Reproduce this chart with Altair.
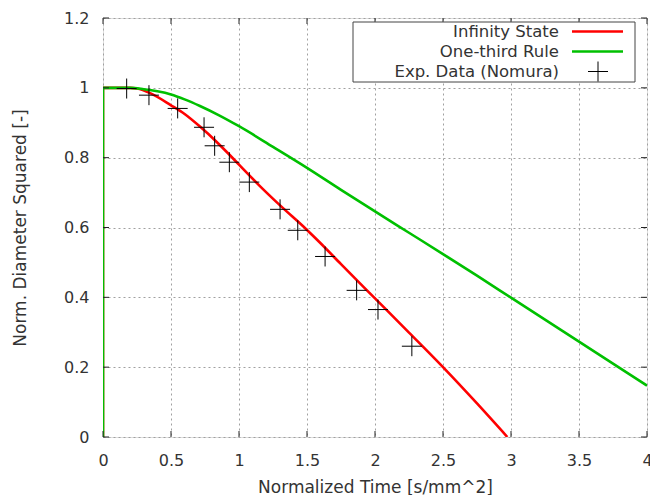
import altair as alt
import pandas as pd

# ---------------- data ----------------
# initial jump at t = 0 (d^2 from 0 to 1), drawn by both model curves
start_t = [0.0, 0.0]
start_d = [0.0, 1.0]

inf_t = [0.0, 0.1, 0.2, 0.25, 0.35, 0.5, 0.6, 0.713, 0.836, 0.921, 1.0, 1.15, 1.3,
         1.5, 1.6, 1.75, 2.0, 2.25, 2.5, 2.75, 2.973]
inf_d = [1.0, 1.0, 1.0, 0.998, 0.984, 0.950, 0.925, 0.889, 0.845, 0.812, 0.780, 0.720, 0.664,
         0.593, 0.555, 0.495, 0.397, 0.299, 0.200, 0.096, 0.0]

third_t = [0.0, 0.1, 0.2, 0.3, 0.4, 0.5, 0.6, 0.713, 0.85, 1.0, 1.25, 1.5, 1.75, 2.0,
           2.25, 2.5, 2.75, 3.0, 3.25, 3.5, 3.75, 4.0]
third_d = [1.0, 1.0, 1.0, 0.996, 0.99, 0.981, 0.967, 0.948, 0.922, 0.89, 0.831, 0.771,
           0.708, 0.646, 0.585, 0.524, 0.462, 0.399, 0.336, 0.273, 0.21, 0.147]

exp_t = [0.174, 0.338, 0.549, 0.743, 0.821, 0.929, 1.076, 1.302, 1.432, 1.633, 1.865, 2.022, 2.271]
exp_d = [0.998, 0.979, 0.941, 0.887, 0.834, 0.787, 0.730, 0.652, 0.592, 0.517, 0.420, 0.365, 0.260]

x_ticks = [0, 0.5, 1, 1.5, 2, 2.5, 3, 3.5, 4]
y_ticks = [0, 0.2, 0.4, 0.6, 0.8, 1.0, 1.2]

legend_labels = ["Infinity State", "One-third Rule", "Exp. Data (Nomura)"]
colors = ["#ff0000", "#00c000", "#000000"]

# ---------------- layout ----------------
W, H = 544, 419
FONT = "DejaVu Sans"
TXT = "#333333"
CROSS = "M-1,0L1,0M0,-1L0,1"
LW = 2.6

df_start = pd.DataFrame({"t": start_t, "d": start_d, "i": range(len(start_t))})
df_inf = pd.DataFrame({"t": inf_t, "d": inf_d})
df_third = pd.DataFrame({"t": third_t, "d": third_d})
df_exp = pd.DataFrame({"t": exp_t, "d": exp_d})
df_xt = pd.DataFrame({"t": x_ticks})
df_yt = pd.DataFrame({"d": y_ticks})

xs = alt.Scale(domain=[0, 4], nice=False, zero=False)
ys = alt.Scale(domain=[0, 1.2], nice=False, zero=False)

x_axis = alt.Axis(title="Normalized Time [s/mm^2]", values=x_ticks, format=".1~f",
                  grid=True, gridDash=[2, 3], gridColor="#a0a0a0", gridWidth=1,
                  ticks=False, tickSize=0, domain=False, labelFlush=False, labelOverlap=False,
                  labelPadding=15, labelFont=FONT, labelFontSize=16, labelColor=TXT,
                  titleFont=FONT, titleFontSize=17, titleFontWeight="normal", titleColor=TXT,
                  titleY=50, titleBaseline="middle")
y_axis = alt.Axis(title="Norm. Diameter Squared [-]", values=y_ticks, format=".1~f",
                  grid=True, gridDash=[2, 3], gridColor="#a0a0a0", gridWidth=1,
                  ticks=False, tickSize=0, domain=False, labelFlush=False, labelOverlap=False,
                  labelPadding=14, labelFont=FONT, labelFontSize=16, labelColor=TXT,
                  titleFont=FONT, titleFontSize=17, titleFontWeight="normal", titleColor=TXT,
                  titleX=-83, titleY=H / 2, titleBaseline="middle", titleAngle=270)

X = alt.X("t:Q", scale=xs, axis=x_axis)
Y = alt.Y("d:Q", scale=ys, axis=y_axis)

red = alt.Chart(df_inf).mark_line(color=colors[0], strokeWidth=LW, clip=True,
                                  interpolate="monotone").encode(x=X, y=Y)
red0 = alt.Chart(df_start).mark_line(color=colors[0], strokeWidth=LW, clip=True).encode(
    x=X, y=Y, order="i:Q")
green = alt.Chart(df_third).mark_line(color=colors[1], strokeWidth=LW, clip=True,
                                      interpolate="monotone").encode(x=X, y=Y)
green0 = alt.Chart(df_start).mark_line(color=colors[1], strokeWidth=LW, clip=True).encode(
    x=X, y=Y, order="i:Q")
pts = alt.Chart(df_exp).mark_point(shape=CROSS, size=400, filled=False, stroke="#000000",
                                   strokeWidth=1, opacity=1).encode(x=X, y=Y)

TL = 6
tick_color = "#222222"
xt_bottom = alt.Chart(df_xt).mark_rule(color=tick_color).encode(
    x=X, y=alt.value(H), y2=alt.value(H - TL))
xt_top = alt.Chart(df_xt).mark_rule(color=tick_color).encode(
    x=X, y=alt.value(0), y2=alt.value(TL))
yt_left = alt.Chart(df_yt).mark_rule(color=tick_color).encode(
    y=Y, x=alt.value(0), x2=alt.value(TL))
yt_right = alt.Chart(df_yt).mark_rule(color=tick_color).encode(
    y=Y, x=alt.value(W), x2=alt.value(W - TL))

# ---------------- legend (gnuplot style key) ----------------
lg = pd.DataFrame({"label": legend_labels})
box = alt.Chart(pd.DataFrame({"a": [0]})).mark_rect(fill="white", stroke="#444444",
                                                   strokeWidth=1).encode(
    x=alt.value(250), x2=alt.value(532), y=alt.value(4), y2=alt.value(64))
row_y = [13.5, 33.5, 53.5]
legend_layers = [box]
for k in range(3):
    legend_layers.append(
        alt.Chart(lg.iloc[[k]]).mark_text(align="right", baseline="middle", font=FONT,
                                          fontSize=16.5, color=TXT).encode(
            text="label:N", x=alt.value(456), y=alt.value(row_y[k])))
for k in range(2):
    legend_layers.append(
        alt.Chart(lg.iloc[[k]]).mark_rule(color=colors[k], strokeWidth=LW).encode(
            x=alt.value(469), x2=alt.value(520), y=alt.value(row_y[k])))
legend_layers.append(
    alt.Chart(lg.iloc[[2]]).mark_point(shape=CROSS, size=400, filled=False, stroke="#000000",
                                       strokeWidth=1, opacity=1).encode(
        x=alt.value(495), y=alt.value(row_y[2])))

chart = alt.layer(red0, red, green0, green, pts, xt_bottom, xt_top, yt_left, yt_right,
                  *legend_layers).properties(
    width=W, height=H,
    autosize=alt.AutoSizeParams(type="none"),
    padding={"left": 103, "top": 18, "right": 3, "bottom": 58},
).configure_view(stroke="#222222", strokeWidth=1).configure(background="white")

chart.save("out.html", embed_options={"renderer": "svg", "actions": False})
